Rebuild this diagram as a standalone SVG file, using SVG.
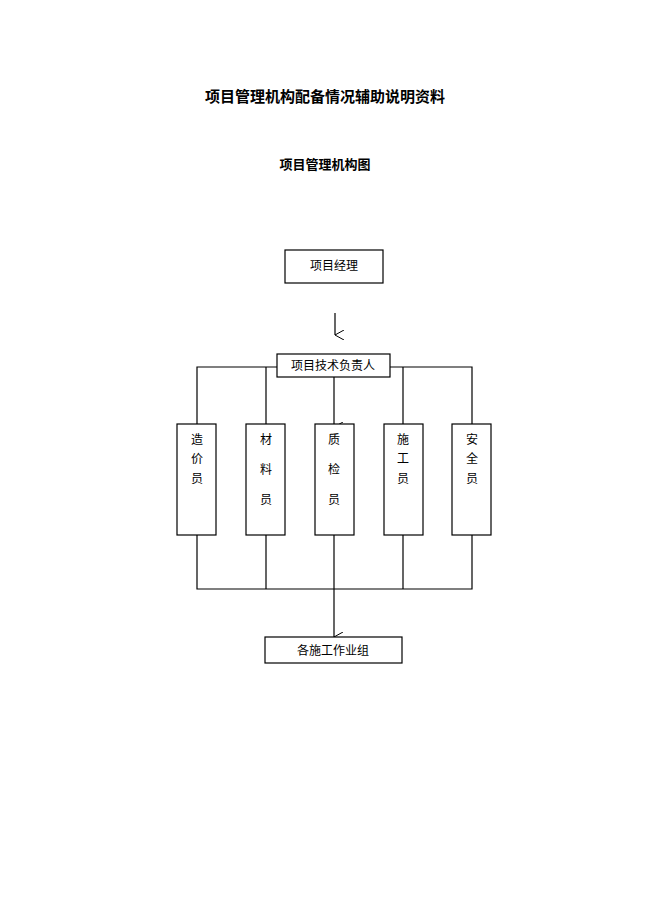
<svg xmlns="http://www.w3.org/2000/svg" width="650" height="920" viewBox="0 0 650 920">
<defs>
<marker id="a" markerWidth="10" markerHeight="10" refX="5" refY="9" orient="auto" markerUnits="userSpaceOnUse"><path d="M0,0 L5,9 L10,0" fill="none" stroke="#000" stroke-width="1"/></marker>
<style>
.b{fill:#fff;stroke:#000;stroke-width:1.2}
.t{font-family:"Liberation Serif","Noto Sans CJK SC",serif;font-size:12px;fill:#000;text-anchor:middle}
.h{font-family:"Noto Sans CJK SC",sans-serif;font-weight:bold;text-anchor:middle;fill:#000}
.l{stroke:#000;stroke-width:1.2;fill:none}
</style>
</defs>
<rect width="650" height="920" fill="#fff"/>
<text class="h" x="325" y="102" font-size="15">项目管理机构配备情况辅助说明资料</text>
<text class="h" x="325" y="169" font-size="13">项目管理机构图</text>
<g id="connectors">
<line class="l" x1="335" y1="313" x2="335" y2="335" marker-end="url(#a)"/>
<path class="l" d="M197,424 V367 H277 M390,367 H472 V424 M266,367 V424 M403,367 V424"/>
<line class="l" x1="334" y1="377" x2="334" y2="427" marker-end="url(#a)"/>
<path class="l" d="M197,535 V589 H472 V535 M266,535 V589 M403,535 V589"/>
<line class="l" x1="334" y1="535" x2="334" y2="637" marker-end="url(#a)"/>
</g>
<g id="pm"><rect class="b" x="285" y="250" width="98" height="33"/><text class="t" x="334" y="270">项目经理</text></g>
<g id="tech"><rect class="b" x="277" y="354" width="113" height="23"/><text class="t" x="333" y="370">项目技术负责人</text></g>
<g id="n1"><rect class="b" x="177" y="424" width="39" height="111"/><text class="t" x="197" y="444">造</text><text class="t" x="197" y="463">价</text><text class="t" x="197" y="483">员</text></g>
<g id="n2"><rect class="b" x="246" y="424" width="39" height="111"/><text class="t" x="266" y="444">材</text><text class="t" x="266" y="474">料</text><text class="t" x="266" y="504">员</text></g>
<g id="n3"><rect class="b" x="315" y="424" width="39" height="111"/><text class="t" x="334" y="444">质</text><text class="t" x="334" y="474">检</text><text class="t" x="334" y="504">员</text></g>
<g id="n4"><rect class="b" x="384" y="424" width="39" height="111"/><text class="t" x="403" y="444">施</text><text class="t" x="403" y="463">工</text><text class="t" x="403" y="483">员</text></g>
<g id="n5"><rect class="b" x="452" y="424" width="39" height="111"/><text class="t" x="472" y="444">安</text><text class="t" x="472" y="463">全</text><text class="t" x="472" y="483">员</text></g>
<g id="groups"><rect class="b" x="265" y="637" width="137" height="26"/><text class="t" x="333" y="655">各施工作业组</text></g>
</svg>
